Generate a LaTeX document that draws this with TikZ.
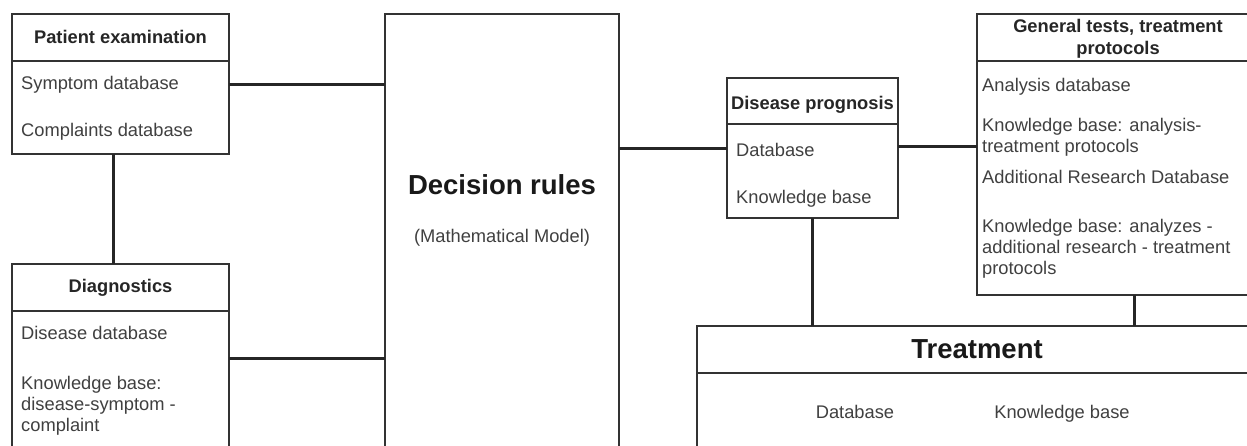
\documentclass[tikz,border=0pt]{standalone}
\usepackage{fontspec}
\setmainfont{Liberation Sans}
\newcommand\leftlines[1]{\begin{tabular}[t]{@{}l@{}}#1\end{tabular}}
\newcommand\midlines[1]{\begin{tabular}[t]{@{}c@{}}#1\end{tabular}}

\begin{document}
\begin{tikzpicture}[x=1pt,y=-1pt,
	box/.style={draw=black!80,line width=1.5pt,rectangle,inner sep=0pt,outer sep=0pt,anchor=north west},
	rule/.style={draw=black!80,line width=1.5pt},
	link/.style={draw=black!85,line width=3pt},
	head/.style={anchor=base,inner sep=0pt,text=black!85,font=\fontsize{18.3}{22}\selectfont\bfseries},
	entry/.style={anchor=base west,inner sep=0pt,text=black!75,font=\fontsize{18.3}{21}\selectfont},
	big/.style={anchor=base,inner sep=0pt,text=black!90,font=\fontsize{27.5}{32}\selectfont\bfseries}]
			\useasboundingbox (0,0) rectangle (1247,445);
			\fill[white] (0,0) rectangle (1247,445);
			\clip (0,0) rectangle (1247,445);
			\node[box,minimum width=217pt,minimum height=140pt] (pe) at (12,14) {};
			\node[box,minimum width=217pt,minimum height=188pt] (diag) at (12,264) {};
			\node[box,minimum width=234pt,minimum height=460pt] (dr) at (385,14) {};
			\node[box,minimum width=171pt,minimum height=140pt] (dp) at (727,78) {};
			\node[box,minimum width=282pt,minimum height=281pt] (gen) at (977,14) {};
			\node[box,minimum width=562pt,minimum height=160pt] (treat) at (697,326) {};
			\foreach \b/\d in {pe/47,diag/47,dp/46,gen/47,treat/47}
			\draw[rule] ([yshift=-\d pt]\b.north west) -- ([yshift=-\d pt]\b.north east);
			\node[head] (pe-t) at (120.5,43) {Patient examination};
			\node[entry] (pe-a) at (21,89) {Symptom database};
			\node[entry] (pe-b) at (21,136) {Complaints database};
			\node[head] (diag-t) at (120.5,292) {Diagnostics};
			\node[entry] (diag-a) at (21,339) {Disease database};
			\node[entry] (diag-b) at (21,389) {\leftlines{Knowledge base:\\disease-symptom -\\complaint}};
			\node[big] (dr-t) at (502,194) {Decision rules};
			\node[entry,anchor=base] (dr-m) at (502,242) {(Mathematical Model)};
			\node[head] (dp-t) at (812.5,109) {Disease prognosis};
			\node[entry] (dp-a) at (736,156) {Database};
			\node[entry] (dp-b) at (736,203) {Knowledge base};
			\node[head] (gen-t) at (1118,32) {\midlines{General tests, treatment\\protocols}};
			\node[entry] (gen-a) at (982,91) {Analysis database};
			\node[entry] (gen-b) at (982,131) {\leftlines{Knowledge base: analysis-\\treatment protocols}};
			\node[entry] (gen-c) at (982,183) {Additional Research Database};
			\node[entry] (gen-d) at (982,232) {\leftlines{Knowledge base: analyzes -\\additional research - treatment\\protocols}};
			\node[big] (treat-t) at (977,358) {Treatment};
			\node[entry,anchor=base] (treat-a) at (855,418) {Database};
			\node[entry,anchor=base] (treat-b) at (1062,418) {Knowledge base};
			\draw[link] (pe.east) -- (pe.east -| dr.west);
			\draw[link] (diag.east) -- (diag.east -| dr.west);
			\draw[link] ([xshift=-7.5pt]pe.south) -- ([xshift=-7.5pt]diag.north);
			\draw[link] (dr.east |- dp.west) -- (dp.west);
			\draw[link] ([yshift=2pt]dp.east) -- ([yshift=2pt]dp.east -| gen.west);
			\draw[link] (dp.south) -- (dp.south |- treat.north);
			\draw[link] ([xshift=16pt]gen.south) -- ([xshift=16pt]gen.south |- treat.north);
		\end{tikzpicture}
\end{document}
